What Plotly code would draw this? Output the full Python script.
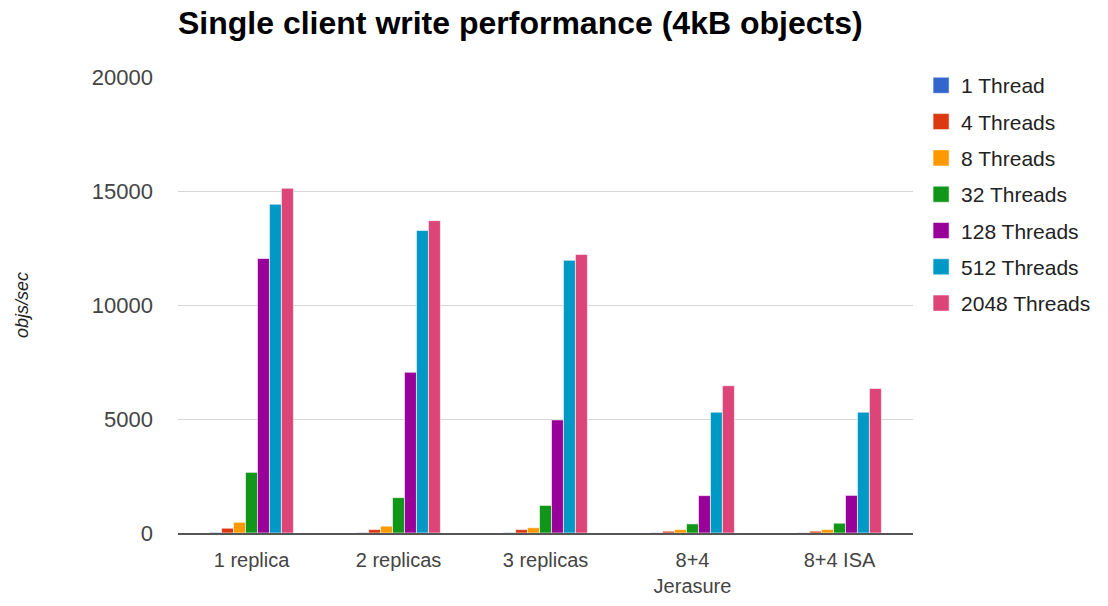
import plotly.graph_objects as go

# Storage layouts under test (the erasure-coded ones use the Jerasure plugin)
categories = ["1 replica", "2 replicas", "3 replicas", "8+4<br>Jerasure", "8+4 ISA"]

# Write throughput (objects per second) for each client thread count
series_names = ["1 Thread", "4 Threads", "8 Threads", "32 Threads",
                "128 Threads", "512 Threads", "2048 Threads"]
thread_1 = [30, 20, 20, 15, 15]
thread_4 = [210, 150, 150, 80, 80]
thread_8 = [470, 300, 230, 150, 150]
thread_32 = [2660, 1550, 1210, 400, 430]
thread_128 = [12040, 7050, 4960, 1640, 1650]
thread_512 = [14420, 13270, 11960, 5300, 5300]
thread_2048 = [15120, 13700, 12220, 6460, 6340]

series_values = [thread_1, thread_4, thread_8, thread_32,
                 thread_128, thread_512, thread_2048]
colors = ["#3366cc", "#dc3912", "#ff9900", "#109618",
          "#990099", "#0099c6", "#dd4477"]

y_ticks = [0, 5000, 10000, 15000, 20000]

fig = go.Figure()
for name, vals, col in zip(series_names, series_values, colors):
    fig.add_trace(go.Bar(
        x=categories, y=vals, name=name, legendgroup=name, showlegend=False,
        marker=dict(color=col, line=dict(color="rgba(255,255,255,0.6)", width=1)),
    ))
    # legend entry with a larger square swatch
    fig.add_trace(go.Scatter(
        x=[None], y=[None], mode="markers", name=name, legendgroup=name,
        marker=dict(symbol="square", size=16, color=col,
                    line=dict(color="rgba(255,255,255,0.5)", width=1)),
    ))

fig.update_layout(
    width=1108, height=606,
    paper_bgcolor="white", plot_bgcolor="white",
    margin=dict(l=178, r=193, t=77, b=73),
    barmode="group", bargap=0.43, bargroupgap=0.0,
    font=dict(family="Liberation Sans, Arial, sans-serif", color="#222"),
    title=dict(
        text="<b>Single client write performance (4kB objects)</b>",
        x=0, xref="paper", xanchor="left",
        y=1 - 23 / 606, yref="container", yanchor="middle",
        font=dict(size=32, color="#000"),
    ),
    legend=dict(
        x=1.011, xanchor="left", y=1.026, yanchor="top",
        font=dict(size=21, color="#222"),
        traceorder="grouped", tracegroupgap=6,
        itemsizing="trace", itemwidth=30, bgcolor="rgba(0,0,0,0)",
    ),
    xaxis=dict(
        tickfont=dict(size=20, color="#444"),
        showline=True, linecolor="#555", linewidth=2,
        ticks="", showgrid=False, ticklabelstandoff=8, automargin=False,
    ),
    yaxis=dict(
        title=dict(text="<i>objs/sec</i>", font=dict(size=18, color="#222"), standoff=58),
        range=[0, 20000], tickvals=y_ticks,
        ticktext=[str(v) for v in y_ticks],
        tickfont=dict(size=22, color="#444"),
        showgrid=True, gridcolor="#d6d6d6", gridwidth=1,
        zeroline=False, ticks="", ticklabelstandoff=24,
    ),
)

fig.write_html("out.html")
